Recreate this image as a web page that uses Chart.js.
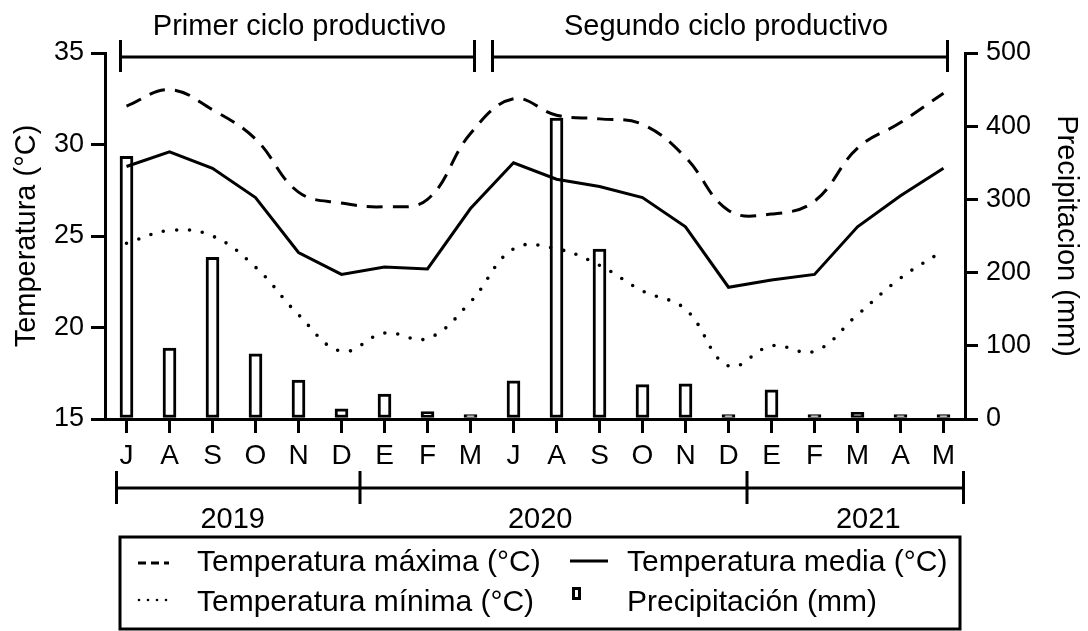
<!DOCTYPE html>
<html>
<head>
<meta charset="utf-8">
<script src="https://cdn.jsdelivr.net/npm/chart.js@4.4.1/dist/chart.umd.min.js"></script>
<style>
  html, body { margin: 0; padding: 0; background: #fff; }
</style>
</head>
<body>
<canvas id="myChart" width="1088" height="631"></canvas>
<script>
// datos
const meses = ['J','A','S','O','N','D','E','F','M','J','A','S','O','N','D','E','F','M','A','M'];
const tempMaxima = [32.1, 33.0, 31.9, 30.3, 27.4, 26.8, 26.6, 27.0, 30.6, 32.5, 31.6, 31.4, 31.1, 29.3, 26.4, 26.2, 26.9, 29.8, 31.2, 32.8];
const tempMedia  = [28.8, 29.6, 28.7, 27.1, 24.1, 22.9, 23.3, 23.2, 26.5, 29.0, 28.1, 27.7, 27.1, 25.5, 22.2, 22.6, 22.9, 25.5, 27.2, 28.7];
const tempMinima = [24.6, 25.3, 25.0, 23.3, 20.7, 18.7, 19.7, 19.4, 21.4, 24.3, 24.3, 23.4, 22.0, 21.0, 17.9, 19.0, 18.7, 20.7, 22.7, 24.2];
const precipitacion = [359, 97, 221, 89, 53, 14, 34, 10, 6, 52, 411, 232, 47, 48, 6, 40, 6, 9, 6, 6];
const anios = ['2019', '2020', '2021'];
const ciclos = ['Primer ciclo productivo', 'Segundo ciclo productivo'];
const leyenda = ['Temperatura máxima (°C)', 'Temperatura media (°C)', 'Temperatura mínima (°C)', 'Precipitación (mm)'];

Chart.defaults.font.family = '"Liberation Sans", Arial, sans-serif';
Chart.defaults.color = '#000';

const FONT = '"Liberation Sans", Arial, sans-serif';

// brackets de ciclos, años y leyenda dibujados a mano
const decoraciones = {
    id: 'decoraciones',
    afterDraw(chart) {
        const ctx = chart.ctx;
        const px = i => chart.scales.x.getPixelForValue(i);
        ctx.save();
        ctx.strokeStyle = '#000';
        ctx.fillStyle = '#000';
        ctx.lineWidth = 3;
        ctx.lineCap = 'butt';
        ctx.font = '29px ' + FONT;
        ctx.textAlign = 'center';
        ctx.textBaseline = 'alphabetic';

        // ciclos productivos (arriba)
        const tramos = [[px(0) - 6, px(8) + 4], [px(9) - 21, px(19) + 4]];
        tramos.forEach((t, k) => {
            ctx.beginPath();
            ctx.moveTo(t[0], 57); ctx.lineTo(t[1], 57);
            ctx.moveTo(t[0], 40); ctx.lineTo(t[0], 72);
            ctx.moveTo(t[1], 40); ctx.lineTo(t[1], 72);
            ctx.stroke();
            ctx.fillText(ciclos[k], (t[0] + t[1]) / 2 + (k ? 6 : 2), 35);
        });

        // años (abajo)
        const cortes = [px(0) - 10, (px(5) + px(6)) / 2 - 3, (px(14) + px(15)) / 2 - 3, px(19) + 20];
        ctx.beginPath();
        ctx.moveTo(cortes[0], 488); ctx.lineTo(cortes[3], 488);
        cortes.forEach(c => { ctx.moveTo(c, 471); ctx.lineTo(c, 504); });
        ctx.stroke();
        const centrosAnio = [2.47, 9.62, 17.25];
        anios.forEach((a, k) => ctx.fillText(a, px(0) + centrosAnio[k] * (px(1) - px(0)), 528));

        // leyenda
        ctx.strokeRect(120, 537, 840, 92);
        ctx.textAlign = 'left';
        ctx.font = '30px ' + FONT;
        ctx.fillText(leyenda[0], 197, 571);
        ctx.fillText(leyenda[1], 627, 571);
        ctx.fillText(leyenda[2], 197, 611);
        ctx.fillText(leyenda[3], 627, 611);

        ctx.lineWidth = 3;
        ctx.setLineDash([8, 5]);
        ctx.beginPath(); ctx.moveTo(138, 563); ctx.lineTo(169, 563); ctx.stroke();
        ctx.setLineDash([]);
        ctx.beginPath(); ctx.moveTo(570, 561); ctx.lineTo(608, 561); ctx.stroke();
        ctx.fillStyle = '#000';
        [139, 148, 157, 166].forEach(d => { ctx.beginPath(); ctx.arc(d, 600, 1.3, 0, Math.PI * 2); ctx.fill(); });
        ctx.fillStyle = '#fff';
        ctx.fillRect(573.5, 588.5, 6, 10);
        ctx.strokeRect(573.5, 588.5, 6, 10);
        ctx.restore();
    }
};

const ctx = document.getElementById('myChart').getContext('2d');

const data = {
    labels: meses,
    datasets: [
        {
            type: 'line',
            label: leyenda[0],
            data: tempMaxima,
            yAxisID: 'y',
            borderColor: '#000',
            borderWidth: 3,
            borderDash: [16, 10],
            tension: 0.4,
            pointRadius: 0,
            fill: false
        },
        {
            type: 'line',
            label: leyenda[1],
            data: tempMedia,
            yAxisID: 'y',
            borderColor: '#000',
            borderWidth: 3,
            tension: 0,
            pointRadius: 0,
            fill: false
        },
        {
            type: 'line',
            label: leyenda[2],
            data: tempMinima,
            yAxisID: 'y',
            borderColor: '#000',
            borderWidth: 3.6,
            borderDash: [0, 13],
            borderCapStyle: 'round',
            tension: 0.4,
            pointRadius: 0,
            fill: false
        },
        {
            type: 'bar',
            label: leyenda[3],
            data: precipitacion,
            yAxisID: 'y1',
            backgroundColor: '#fff',
            borderColor: '#000',
            borderWidth: 3,
            borderSkipped: false,
            barThickness: 13
        }
    ]
};

const config = {
    type: 'bar',
    data: data,
    plugins: [decoraciones],
    options: {
        responsive: false,
        animation: false,
        layout: { padding: { top: 53, left: 0, right: 0, bottom: 0 } },
        scales: {
            x: {
                offset: true,
                grid: {
                    offset: false,
                    drawOnChartArea: false,
                    tickLength: 14,
                    color: '#000',
                    lineWidth: 3
                },
                border: { display: true, color: '#000', width: 3 },
                ticks: {
                    autoSkip: false,
                    maxRotation: 0,
                    padding: 6,
                    font: { size: 28 }
                },
                afterFit: function(scale) { scale.height = 212; }
            },
            y: {
                position: 'left',
                min: 15,
                max: 35,
                ticks: { stepSize: 5, padding: 7, font: { size: 27 } },
                grid: { drawOnChartArea: false, tickLength: 14, color: '#000', lineWidth: 3 },
                border: { display: true, color: '#000', width: 3 },
                title: {
                    display: true,
                    text: 'Temperatura (°C)',
                    font: { size: 29 },
                    padding: { top: 10, bottom: 0 }
                },
                afterFit: function(scale) { scale.width = 105; }
            },
            y1: {
                position: 'right',
                min: 0,
                max: 500,
                ticks: { stepSize: 100, padding: 8, font: { size: 27 } },
                grid: { drawOnChartArea: false, tickLength: 13, color: '#000', lineWidth: 3 },
                border: { display: true, color: '#000', width: 3 },
                title: {
                    display: true,
                    text: 'Precipitacion (mm)',
                    font: { size: 29 },
                    padding: { top: 5, bottom: 0 }
                },
                afterFit: function(scale) { scale.width = 123; }
            }
        },
        plugins: {
            legend: { display: false },
            tooltip: { enabled: false }
        }
    }
};

const myChart = new Chart(ctx, config);
</script>
</body>
</html>
